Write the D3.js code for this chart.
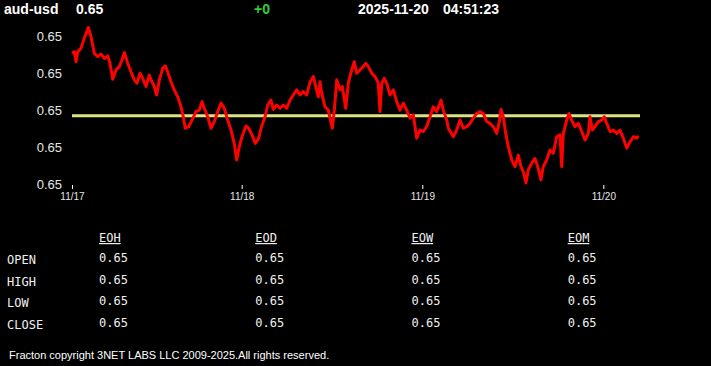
<!DOCTYPE html>
<html>
<head>
<meta charset="utf-8">
<script src="https://cdn.jsdelivr.net/npm/d3@7"></script>
<style>
  html, body { margin: 0; padding: 0; background: #000; }
  svg { display: block; }
</style>
</head>
<body>
<svg id="chart" width="711" height="366"></svg>
<script>
// ---- data ----
const symbol = "aud-usd";
const lastPrice = "0.65";
const change = "+0";
const dateText = "2025-11-20";
const timeText = "04:51:23";

const dayLabels = ["11/17", "11/18", "11/19", "11/20"];
const dayHours = [0, 24, 48, 72];
const endHour = 76.86;

const hours = [0,0.33,0.57,0.81,1.27,1.74,2.31,2.69,3.15,3.63,4.10,4.57,5.05,5.37,5.76,6.22,6.69,7.07,7.40,7.88,
  8.34,8.81,9.19,9.62,10.00,10.47,10.93,11.31,11.64,11.98,12.35,12.83,13.20,13.53,14.00,14.47,14.95,15.42,15.74,16.02,
  16.50,16.97,17.54,18.00,18.39,18.71,19.19,19.66,20.13,20.61,21.08,21.54,22.02,22.49,22.95,23.29,23.66,
  24.04,24.57,24.93,25.37,25.81,26.23,26.63,27.10,27.46,27.89,28.20,28.65,29.09,29.53,29.98,30.42,30.86,31.31,31.75,
  32.19,32.64,33.09,33.52,33.84,34.18,34.41,34.63,35.07,35.51,36.04,36.31,36.63,37.07,37.37,37.82,38.17,38.62,38.96,
  39.28,39.72,40.16,40.48,40.83,41.28,41.72,42.15,42.38,42.61,42.95,43.27,43.71,44.15,44.60,45.04,45.48,45.93,46.37,
  46.81,47.26,47.69,
  48.13,48.58,49.02,49.46,49.91,50.48,50.78,51.24,51.45,52.11,52.56,53.00,53.44,53.89,54.33,54.76,55.21,55.65,56.09,
  56.54,56.97,57.41,57.87,58.17,58.44,58.74,59.06,59.40,59.85,60.29,60.73,61.09,61.39,61.75,62.05,62.50,62.94,63.30,
  63.74,64.04,64.49,64.93,65.37,65.82,66.26,66.48,66.70,67.15,67.45,67.81,68.25,68.69,69.14,69.58,70.01,70.24,70.54,
  70.90,71.34,71.79,
  72.13,72.45,72.89,73.33,73.78,74.21,74.65,75.10,75.54,75.98,76.43,76.64];

const prices = [0.64955,0.64959,0.64932,0.64959,0.64969,0.64996,0.65025,0.65000,0.64955,0.64946,0.64953,0.64941,0.64948,
  0.64928,0.64885,0.64910,0.64919,0.64937,0.64957,0.64928,0.64905,0.64883,0.64874,0.64901,0.64887,0.64865,0.64896,
  0.64878,0.64865,0.64842,0.64883,0.64914,0.64921,0.64905,0.64878,0.64856,0.64837,0.64810,0.64783,0.64752,0.64756,
  0.64774,0.64797,0.64801,0.64824,0.64806,0.64783,0.64752,0.64770,0.64797,0.64820,0.64806,0.64774,0.64747,0.64711,
  0.64666,0.64702,
  0.64729,0.64758,0.64752,0.64734,0.64711,0.64723,0.64756,0.64783,0.64815,0.64828,0.64803,0.64815,0.64806,0.64815,
  0.64806,0.64828,0.64842,0.64856,0.64842,0.64851,0.64842,0.64878,0.64892,0.64865,0.64837,0.64878,0.64847,0.64810,
  0.64801,0.64752,0.64801,0.64883,0.64856,0.64865,0.64806,0.64874,0.64910,0.64932,0.64901,0.64910,0.64919,0.64928,
  0.64919,0.64901,0.64892,0.64874,0.64797,0.64874,0.64887,0.64874,0.64842,0.64856,0.64824,0.64801,0.64820,0.64801,
  0.64779,0.64788,0.64725,0.64747,
  0.64743,0.64756,0.64783,0.64810,0.64797,0.64828,0.64801,0.64774,0.64752,0.64729,0.64747,0.64774,0.64752,0.64756,
  0.64765,0.64779,0.64792,0.64797,0.64792,0.64770,0.64765,0.64756,0.64738,0.64765,0.64803,0.64783,0.64738,0.64702,
  0.64666,0.64648,0.64679,0.64648,0.64634,0.64604,0.64639,0.64657,0.64670,0.64648,0.64612,0.64648,0.64666,0.64693,
  0.64684,0.64729,0.64734,0.64648,0.64738,0.64774,0.64792,0.64774,0.64756,0.64765,0.64743,0.64720,0.64738,0.64783,
  0.64747,0.64756,0.64770,0.64774,
  0.64783,0.64765,0.64743,0.64747,0.64738,0.64747,0.64725,0.64698,0.64715,0.64729,0.64725,0.64731];

const refPrice = 0.64786;
const yTicks = [0.646, 0.647, 0.648, 0.649, 0.650];

const tableCols = ["EOH", "EOD", "EOW", "EOM"];
const tableRows = ["OPEN", "HIGH", "LOW", "CLOSE"];
const tableValues = [
  ["0.65", "0.65", "0.65", "0.65"],
  ["0.65", "0.65", "0.65", "0.65"],
  ["0.65", "0.65", "0.65", "0.65"],
  ["0.65", "0.65", "0.65", "0.65"]
];
const footerText = "Fracton copyright 3NET LABS LLC 2009-2025.All rights reserved.";

// ---- drawing ----
const svg = d3.select("#chart");
svg.append("rect").attr("width", 711).attr("height", 366).attr("fill", "#000");

// header
const hdr = svg.append("g").attr("font-family", "Arial, 'Liberation Sans', sans-serif")
  .attr("font-size", 14).attr("font-weight", "bold");
hdr.append("text").attr("x", 4).attr("y", 14).attr("fill", "#fff").text(symbol);
hdr.append("text").attr("x", 76).attr("y", 14).attr("fill", "#fff").text(lastPrice);
hdr.append("text").attr("x", 254).attr("y", 14).attr("fill", "#33cc33").text(change);
hdr.append("text").attr("x", 358).attr("y", 14).attr("fill", "#fff").text(dateText);
hdr.append("text").attr("x", 443).attr("y", 14).attr("fill", "#fff").text(timeText);

// scales
const x = d3.scaleLinear()
  .domain([dayHours[0], dayHours[1], dayHours[2], dayHours[3], endHour])
  .range([72, 241.7, 422.3, 603.3, 640]);
const y = d3.scaleLinear().domain([0.646, 0.650]).range([184.3, 36.7]);

// y axis
const yAxis = svg.append("g").attr("transform", "translate(62,0)")
  .call(d3.axisLeft(y).tickValues(yTicks).tickFormat(d3.format(".2f")).tickSize(0).tickPadding(0));
yAxis.select(".domain").remove();
yAxis.selectAll("text").attr("fill", "#e6e6e6")
  .attr("font-family", "Arial, 'Liberation Sans', sans-serif").attr("font-size", 13);

// x axis
const xAxis = svg.append("g").attr("transform", "translate(0,185)")
  .call(d3.axisBottom(x).tickValues(dayHours).tickFormat((d, i) => dayLabels[i]).tickSize(4).tickPadding(3.5));
xAxis.select(".domain").remove();
xAxis.selectAll("line").attr("stroke", "#fff");
xAxis.selectAll("text").attr("fill", "#e6e6e6")
  .attr("font-family", "Arial, 'Liberation Sans', sans-serif").attr("font-size", 10);

// reference line
svg.append("line")
  .attr("x1", x(0)).attr("x2", x(endHour))
  .attr("y1", y(refPrice)).attr("y2", y(refPrice))
  .attr("stroke", "#dde382").attr("stroke-width", 3);

// price line
const pts = hours.map((h, i) => [h, prices[i]]);
svg.append("path").datum(pts)
  .attr("fill", "none").attr("stroke", "#ff0000").attr("stroke-width", 3)
  .attr("stroke-linejoin", "round")
  .attr("d", d3.line().x(d => x(d[0])).y(d => y(d[1])));

// table
const colX = d3.scalePoint().domain(tableCols).range([99, 567.7]);
const rowY = d3.scalePoint().domain(tableRows).range([263, 328]);
const tbl = svg.append("g").attr("font-family", "Consolas, 'DejaVu Sans Mono', monospace")
  .attr("font-size", 12).attr("fill", "#f0f0f0");
tbl.selectAll("text.col").data(tableCols).join("text")
  .attr("class", "col").attr("x", d => colX(d)).attr("y", 242)
  .attr("text-decoration", "underline").text(d => d);
tbl.selectAll("text.row").data(tableRows).join("text")
  .attr("class", "row").attr("x", 7).attr("y", d => rowY(d) + 1).text(d => d);
tableRows.forEach((r, ri) => {
  tbl.selectAll("text.v" + ri).data(tableValues[ri]).join("text")
    .attr("class", "v" + ri).attr("x", (d, ci) => colX(tableCols[ci]))
    .attr("y", rowY(r) - 1).text(d => d);
});

// footer
svg.append("text").attr("x", 9).attr("y", 359)
  .attr("font-family", "Arial, 'Liberation Sans', sans-serif").attr("font-size", 11)
  .attr("fill", "#fff").text(footerText);
</script>
</body>
</html>
